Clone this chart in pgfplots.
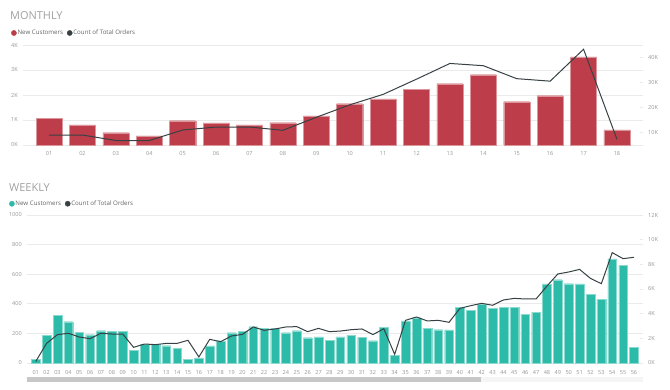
\documentclass[border=0pt]{standalone}
\usepackage{pgfplots}
\pgfplotsset{compat=1.18}
\usepackage{pgfplotstable}
\usepackage{fontspec}
\setmainfont{Open Sans}
\definecolor{mred}{RGB}{189,62,74}
\definecolor{mteal}{RGB}{43,187,168}
\definecolor{mdark}{RGB}{55,65,68}
\definecolor{gridgray}{RGB}{234,234,234}
\definecolor{tickgray}{RGB}{150,150,150}
\definecolor{legendgray}{RGB}{100,100,100}
\definecolor{titlegray}{RGB}{160,160,160}

\pgfplotstableread{
x c o
0 1070 8900
1 800 8900
2 490 6700
3 360 6700
4 970 10900
5 880 12100
6 800 12100
7 890 10800
8 1160 16000
9 1650 21000
10 1840 25200
11 2230 31300
12 2450 37600
13 2810 36700
14 1730 31500
15 1970 30500
16 3520 43300
17 600 7200
}\monthly

\pgfplotstableread{
x c o
1 25 120
2 185 1590
3 320 2300
4 279 2410
5 207 2110
6 191 1970
7 218 2410
8 212 2350
9 216 2350
10 86 1270
11 126 1540
12 124 1490
13 117 1590
14 97 1590
15 27 1840
16 34 490
17 115 1920
18 149 1730
19 205 2190
20 212 2320
21 245 2920
22 234 2650
23 234 2760
24 205 2920
25 218 2950
26 171 2540
27 176 2810
28 153 2540
29 176 2590
30 189 2700
31 173 2760
32 151 2300
33 243 2780
34 54 700
35 284 3460
36 306 3730
37 236 3410
38 225 3460
39 223 3300
40 374 4430
41 358 4650
42 396 4840
43 369 4680
44 376 5110
45 378 5240
46 331 5190
47 342 5190
48 534 6240
49 563 7220
50 536 7380
51 534 7590
52 466 6860
53 432 6430
54 703 8950
55 662 8460
56 106 8570
}\weekly

\pgfplotsset{
  base/.style={
    scale only axis,
    axis line style={draw=none},
    tick label style={font=\fontsize{5.6}{6.5}\selectfont, text=tickgray, inner sep=0pt},
    scaled y ticks=false,
    clip=false,
  },
  leftax/.style={
    base,
    major tick style={draw=none},
    ymajorgrids,
    grid style={gridgray, line width=0.6bp},
    yticklabel style={xshift=-5bp},
    xtick style={draw=none},
    legend style={draw=none, fill=none, inner sep=0pt, legend columns=-1,
      font=\fontsize{6.2}{7}\selectfont, text=legendgray,
      /tikz/every even column/.append style={column sep=3bp},
      nodes={inner sep=0.8bp}},
  },
  rightax/.style={
    base,
    axis y line*=right,
    axis x line=none,
    major tick length=3bp,
    tick align=inside,
    ytick style={draw=gridgray, line width=0.6bp},
    yticklabel style={xshift=5bp, anchor=west},
  },
}

\begin{document}
\begin{tikzpicture}
\useasboundingbox (0,0) rectangle (670bp,390bp);

\node[anchor=base west, font=\fontsize{11}{13}\selectfont, text=titlegray, inner sep=0pt] at (10bp,370bp) {MONTHLY};
\node[anchor=base west, font=\fontsize{11}{13}\selectfont, text=titlegray, inner sep=0pt] at (9bp,198.3bp) {WEEKLY};

% ---------- MONTHLY ----------
\begin{axis}[leftax,
  at={(23bp,245bp)}, anchor=south west, width=620bp, height=100bp,
  xmin=-0.78, xmax=17.78, ymin=0, ymax=4000,
  xtick={0,...,17},
  xticklabels={01,02,03,04,05,06,07,08,09,10,11,12,13,14,15,16,17,18},
  xticklabel style={yshift=-6.5bp},
  ytick={0,1000,2000,3000,4000},
  yticklabels={0K,1K,2K,3K,4K},
  legend style={at={(-0.0195,1.12)}, anchor=west},
]
\addlegendimage{legend image code/.code={\fill[mred] (0bp,0bp) circle (2.6bp);}}
\addlegendentry{New Customers}
\addlegendimage{legend image code/.code={\fill[mdark] (0bp,0bp) circle (2.6bp);}}
\addlegendentry{Count of Total Orders}
\addplot[ybar, bar width=0.78, fill=mred, draw=mred!55!white, line width=0.4bp, forget plot]
  table[x=x, y=c] {\monthly};
\end{axis}

\begin{axis}[rightax,
  at={(23bp,245bp)}, anchor=south west, width=620bp, height=100bp,
  xmin=-0.78, xmax=17.78, ymin=4900, ymax=45000,
  ytick={10000,20000,30000,40000},
  yticklabels={10K,20K,30K,40K},
]
\addplot[mdark, line width=1bp, mark=none] table[x=x, y=o] {\monthly};
\end{axis}

% ---------- WEEKLY ----------
\begin{axis}[leftax,
  at={(27bp,27bp)}, anchor=south west, width=616bp, height=148bp,
  xmin=0.2, xmax=56.83, ymin=0, ymax=1000,
  xtick={1,...,56},
  xticklabels={01,02,03,04,05,06,07,08,09,10,11,12,13,14,15,16,17,18,19,20,21,22,23,24,25,26,27,28,29,30,31,32,33,34,35,36,37,38,39,40,41,42,43,44,45,46,47,48,49,50,51,52,53,54,55,56},
  xticklabel style={yshift=-7.5bp},
  ytick={0,200,400,600,800,1000},
  yticklabels={0,200,400,600,800,1000},
  legend style={at={(-0.0294,1.076)}, anchor=west},
]
\addlegendimage{legend image code/.code={\fill[mteal] (0bp,0bp) circle (2.6bp);}}
\addlegendentry{New Customers}
\addlegendimage{legend image code/.code={\fill[mdark] (0bp,0bp) circle (2.6bp);}}
\addlegendentry{Count of Total Orders}
\addplot[ybar, bar width=0.8, fill=mteal, draw=mteal!55!white, line width=0.3bp, forget plot]
  table[x=x, y=c] {\weekly};
\end{axis}

\begin{axis}[rightax,
  at={(27bp,27bp)}, anchor=south west, width=616bp, height=148bp,
  xmin=0.2, xmax=56.83, ymin=0, ymax=12000,
  ytick={0,2000,4000,6000,8000,10000,12000},
  yticklabels={0K,2K,4K,6K,8K,10K,12K},
]
\addplot[mdark, line width=1bp, mark=none] table[x=x, y=o] {\weekly};
\end{axis}

% scroll bar
\fill[black!4] (481bp,8bp) rectangle (643bp,13bp);
\fill[black!22] (27bp,8bp) rectangle (481bp,13bp);
\end{tikzpicture}
\end{document}
